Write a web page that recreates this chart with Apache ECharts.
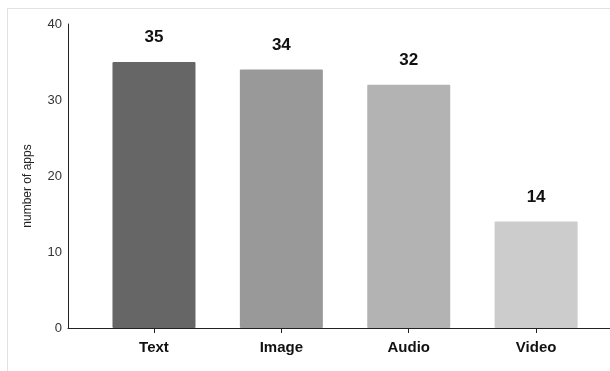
<!DOCTYPE html>
<html>
<head>
<meta charset="utf-8">
<script src="https://cdn.jsdelivr.net/npm/echarts@6/dist/echarts.min.js"></script>
<style>
  html, body { margin: 0; padding: 0; background: #fff; }
  #wrap { position: relative; width: 610px; height: 371px; }
  #chart { width: 610px; height: 371px; }
  #frame { position: absolute; left: 7px; top: 8px; right: 0; bottom: 0;
           border-left: 1px solid #e2e2e2; border-top: 1px solid #e2e2e2; pointer-events: none; }
</style>
</head>
<body>
<div id="wrap"><div id="chart"></div><div id="frame"></div></div>
<script>
const categories = ['Text', 'Image', 'Audio', 'Video'];
const values = [35, 34, 32, 14];
const barColors = ['#666666', '#999999', '#b3b3b3', '#cccccc'];
const yTickValues = [0, 10, 20, 30, 40];
const yAxisTitle = 'number of apps';

const catIndex = categories.map((c, i) => i);
const FONT = 'Liberation Sans, Arial, sans-serif';

const chart = echarts.init(document.getElementById('chart'), null, { renderer: 'canvas' });

const option = {
  animation: false,
  backgroundColor: 'transparent',
  grid: { left: 68, right: 0, top: 24, bottom: 43, containLabel: false },
  xAxis: [
    {
      type: 'value',
      min: -0.675,
      max: 3.58,
      splitLine: { show: false },
      axisLine: { show: true, onZero: false, lineStyle: { color: '#222', width: 1 } },
      axisTick: { show: true, customValues: catIndex, length: 5, lineStyle: { color: '#222' } },
      axisLabel: {
        show: true,
        customValues: catIndex,
        formatter: v => categories[Math.round(v)] || '',
        fontFamily: FONT, fontSize: 15, fontWeight: 'bold', color: '#111', margin: 12
      }
    },
    {
      type: 'value',
      position: 'bottom',
      min: -0.675,
      max: 3.58,
      splitLine: { show: false },
      axisLine: { show: false, onZero: false },
      axisTick: { show: true, inside: true, customValues: catIndex, length: 6, lineStyle: { color: '#222' } },
      axisLabel: { show: false }
    }
  ],
  yAxis: {
    type: 'value',
    min: yTickValues[0],
    max: yTickValues[yTickValues.length - 1],
    interval: 10,
    name: yAxisTitle,
    nameLocation: 'middle',
    nameGap: 34,
    nameRotate: 90,
    nameTextStyle: { fontFamily: FONT, fontSize: 12, color: '#222', padding: [0, 20, 0, 0] },
    splitLine: { show: false },
    axisTick: { show: false },
    axisLine: { show: true, onZero: false, lineStyle: { color: '#222', width: 1 } },
    axisLabel: { fontFamily: FONT, fontSize: 13, color: '#333', margin: 6 }
  },
  series: [{
    type: 'bar',
    xAxisIndex: 0,
    barWidth: 83,
    z: 1,
    data: values.map((v, i) => ({ value: [catIndex[i], v], itemStyle: { color: barColors[i] } })),
    itemStyle: { borderRadius: 1 },
    label: {
      show: true,
      position: 'top',
      distance: 16,
      formatter: p => String(p.value[1]),
      fontFamily: FONT, fontSize: 17, fontWeight: 'bold', color: '#111'
    }
  }]
};

chart.setOption(option);
</script>
</body>
</html>
